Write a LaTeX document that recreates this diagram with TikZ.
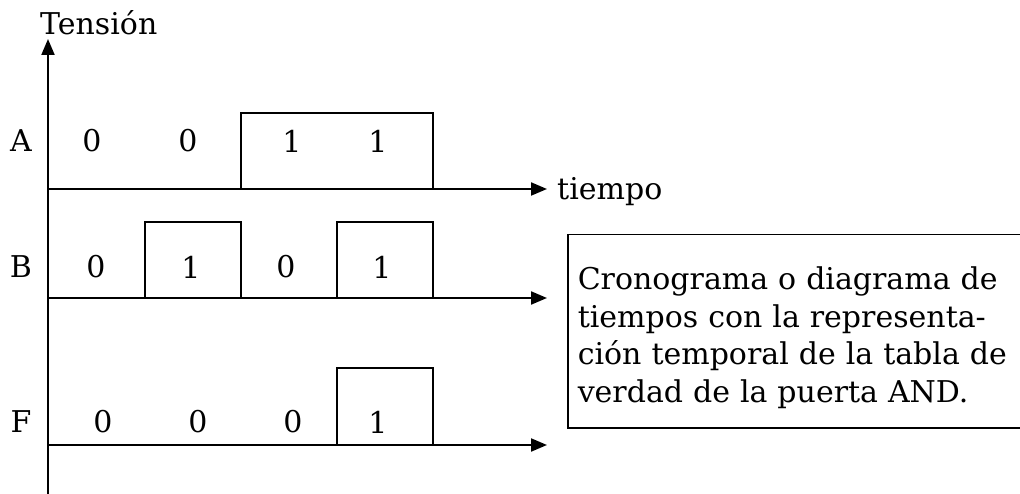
\documentclass[tikz,border=0pt]{standalone}
\usepackage{fontspec}
\setmainfont{DejaVu Serif}
\usetikzlibrary{positioning}
\usetikzlibrary{arrows.meta}

\tikzset{
  sig/.style={line width=2pt},
  axis/.style={line width=2pt, -{Triangle[length=16pt,width=13pt]}},
  lbl/.style={font=\fontsize{30}{36}\selectfont, inner sep=0pt},
}

\begin{document}
\begin{tikzpicture}[x=1pt,y=-1pt]
    \useasboundingbox (0,0) rectangle (1020,494);

    % Vertical axis
    \coordinate (orig) at (48,494);
    \coordinate (vtop) at (48,39);
    \draw[axis] (orig) -- (vtop);
    \node[lbl, anchor=base west] (tension) at (40,35) {Tensión};

    % Time axes
    \foreach \name/\y in {A/189, B/298, F/445} {
        \coordinate (\name-start) at (48,\y);
        \coordinate (\name-end) at (547,\y);
        \draw[axis] (\name-start) -- (\name-end);
    }
    \node[lbl, anchor=west] (tiempo) at ([xshift=10pt,yshift=-3pt]A-end) {tiempo};

    % Pulses
    \draw[sig] (241,189) rectangle (433,113);
    \draw[sig] (145,298) rectangle (241,222);
    \draw[sig] (337,298) rectangle (433,222);
    \draw[sig] (337,445) rectangle (433,368);

    % Signal names and values
    \node[lbl] (nameA) at (21,141) {A};
    \node[lbl] (nameB) at (21,267) {B};
    \node[lbl] (nameF) at (21,422) {F};
    \foreach \x/\v [count=\i] in {92/0, 188/0, 292/1, 378/1}
        \node[lbl] (valA\i) at (\x,141) {\v};
    \foreach \x/\v [count=\i] in {96/0, 191/1, 286/0, 382/1}
        \node[lbl] (valB\i) at (\x,267) {\v};
    \foreach \x/\v [count=\i] in {103/0, 198/0, 293/0, 378/1}
        \node[lbl] (valF\i) at (\x,422) {\v};

    % Caption box
    \node[draw, line width=1.5pt, anchor=north west, minimum width=460pt,
          minimum height=193pt, text width=440pt, inner xsep=8pt, align=left,
          font=\fontsize{30}{37.7}\selectfont] (caption) at (567,234)
        {\rule{0pt}{36pt}Cronograma o diagrama de\\ tiempos con la representa-\\
         ción temporal de la tabla de\\ verdad de la puerta AND.};
\end{tikzpicture}
\end{document}
